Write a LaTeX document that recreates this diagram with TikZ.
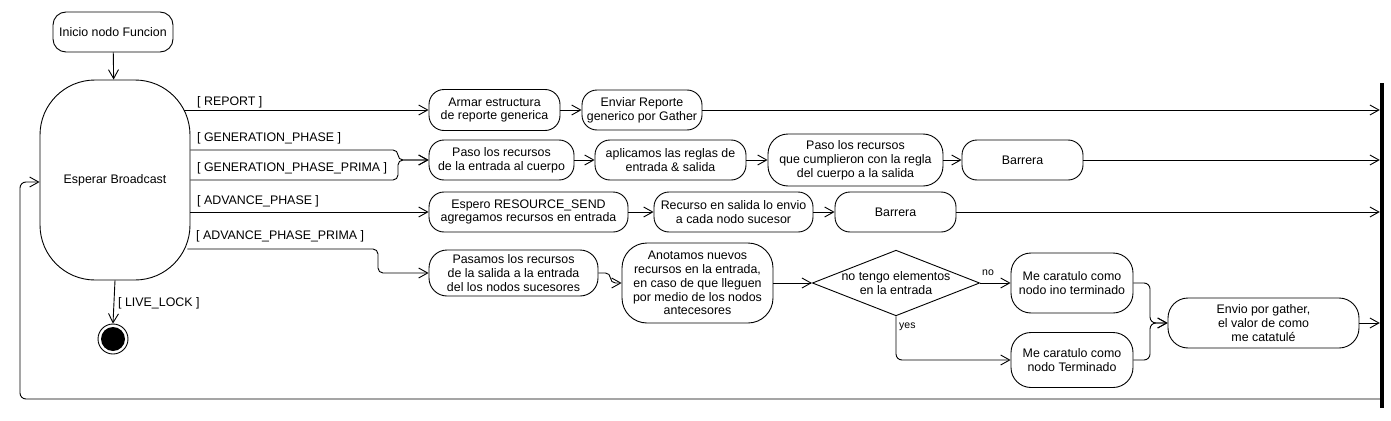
\documentclass[tikz,border=0pt]{standalone}
\usepackage{fontspec}
\setmainfont{Liberation Sans}
\usetikzlibrary{arrows.meta,shapes.geometric,calc}
\begin{document}
\begin{tikzpicture}[x=1pt,y=-1pt,
  every node/.style={font=\fontsize{12.4}{13.8}\selectfont},
  st/.style={draw, line width=0.9pt, rounded corners=15pt, align=center, inner sep=0pt},
  lnk/.style={line width=0.9pt, -{Straight Barb[length=9pt,width=10pt]}},
  ln/.style={line width=0.9pt},
  guard/.style={anchor=west, inner sep=0pt},
  small/.style={font=\fontsize{10.5}{12}\selectfont, inner sep=0pt},
]
\useasboundingbox[fill=white] (0,0) rectangle (1391,420);

% states
\node[st, rounded corners=13pt, minimum width=120pt, minimum height=40pt] (ini) at (113,32) {Inicio nodo Funcion};
\node[st, rounded corners=55pt, minimum width=150pt, minimum height=200pt] (esp) at (115,180) {Esperar Broadcast};
\node[circle, draw, line width=0.9pt, minimum size=30pt, inner sep=0pt] (fin) at (113,339) {};
\node[circle, fill=black, minimum size=24pt, inner sep=0pt] (finin) at (fin.center) {};

\node[st, minimum width=131pt, minimum height=41pt] (armar) at (494.5,110) {Armar estructura\\de reporte generica};
\node[st, minimum width=120pt, minimum height=40pt] (enviar) at (642,110) {Enviar Reporte\\generico por Gather};

\node[st, minimum width=145pt, minimum height=40pt] (paso1) at (501.5,160) {Paso los recursos\\de la entrada al cuerpo};
\node[st, minimum width=151pt, minimum height=40pt] (aplic) at (670.5,160) {aplicamos las reglas de\\entrada \& salida};
\node[st, rounded corners=20pt, minimum width=175pt, minimum height=52pt] (paso2) at (855.5,160) {Paso los recursos\\que cumplieron con la regla\\del cuerpo a la salida};
\node[st, minimum width=121pt, minimum height=40pt] (barr1) at (1022.5,160) {Barrera};

\node[st, minimum width=199pt, minimum height=40pt] (espero) at (528.5,212) {Espero RESOURCE\_SEND\\agregamos recursos en entrada};
\node[st, minimum width=159pt, minimum height=40pt] (recurso) at (733.5,212) {Recurso en salida lo envio\\a cada nodo sucesor};
\node[st, minimum width=121pt, minimum height=40pt] (barr2) at (895.5,212) {Barrera};

\node[st, rounded corners=18pt, minimum width=169pt, minimum height=46pt] (pasamos) at (513.5,273) {Pasamos los recursos\\de la salida a la entrada\\del los nodos sucesores};
\node[st, rounded corners=25pt, minimum width=151pt, minimum height=80pt] (anot) at (697.5,283) {Anotamos nuevos\\recursos en la entrada,\\en caso de que lleguen\\por medio de los nodos\\antecesores};
\node[diamond, draw, line width=0.9pt, align=center, inner sep=0pt, aspect=2.55, minimum width=166pt, minimum height=65pt] (dia) at (896,283) {no tengo elementos\\en la entrada};
\node[st, rounded corners=20pt, minimum width=122pt, minimum height=60pt] (ino) at (1072,283) {Me caratulo como\\nodo ino terminado};
\node[st, rounded corners=20pt, minimum width=122pt, minimum height=55pt] (term) at (1072,360) {Me caratulo como\\nodo Terminado};
\node[st, rounded corners=20pt, minimum width=191pt, minimum height=50pt] (envio) at (1263.5,323) {Envio por gather,\\el valor de como\\me catatulé};

% join bar
\node[fill=black, draw=none, minimum width=4pt, minimum height=325pt, inner sep=0pt] (bar) at (1382,245.5) {};

% helper coordinates
\coordinate (gm) at (398,160);
\coordinate (am) at (378,249);
\coordinate (mrg) at (1150,323);
\coordinate (ydn) at (896,360);
\coordinate (loopy) at (0,399);
\coordinate (loopx) at (20,0);

% connectors
\draw[lnk] (ini) -- (esp);
\draw[lnk] (esp.south) -- (fin.north);
\node[guard] (lbl0) at (118,303) {[ LIVE\_LOCK ]};

\draw[lnk] ([xshift=-6pt]esp.east |- armar.west) -- (armar.west);
\node[guard] (lbl1) at (197,102) {[ REPORT ]};
\draw[lnk] (armar) -- (enviar);
\draw[lnk] (enviar.east) -- (enviar.east -| bar.west);

\draw[lnk, rounded corners=5pt] (esp.east |- 0,150) -| (gm) -- (paso1.west);
\draw[lnk, rounded corners=5pt] (esp.east |- 0,180) -| (gm) -- (paso1.west);
\node[guard] (lbl2) at (197,138) {[ GENERATION\_PHASE ]};
\node[guard] (lbl3) at (197,168) {[ GENERATION\_PHASE\_PRIMA ]};
\draw[lnk] (paso1) -- (aplic);
\draw[lnk] (aplic) -- (paso2);
\draw[lnk] (paso2) -- (barr1);
\draw[lnk] (barr1.east) -- (barr1.east -| bar.west);

\draw[lnk] (esp.east |- espero.west) -- (espero.west);
\node[guard] (lbl4) at (197,201) {[ ADVANCE\_PHASE ]};
\draw[lnk] (espero) -- (recurso);
\draw[lnk] (recurso) -- (barr2);
\draw[lnk] (barr2.east) -- (barr2.east -| bar.west);

\draw[lnk, rounded corners=5pt] ([xshift=-3pt]esp.east |- am) -- (am) |- (pasamos.west);
\node[guard] (lbl5) at (196,236) {[ ADVANCE\_PHASE\_PRIMA ]};
\draw[lnk, rounded corners=5pt] (pasamos.east) -- ++(12,0) |- (anot.west);
\draw[lnk] (anot) -- (dia);
\draw[lnk] (dia.east) -- (ino.west);
\node[small, anchor=west] (lno) at (982,273) {no};
\draw[lnk, rounded corners=6pt] (dia.south) -- (ydn) -- (term.west);
\node[small, anchor=west] (lyes) at (899,327) {yes};
\draw[lnk, rounded corners=6pt] (ino.east) -| (mrg) -- (envio.west);
\draw[lnk, rounded corners=6pt] (term.east) -| (mrg) -- (envio.west);
\draw[lnk] (envio.east) -- (envio.east -| bar.west);

% loop back
\draw[lnk, rounded corners=6pt] (bar.west |- loopy) -- (loopx |- loopy) -- (loopx |- 0,182) -- (esp.west |- 0,182);
\end{tikzpicture}
\end{document}
